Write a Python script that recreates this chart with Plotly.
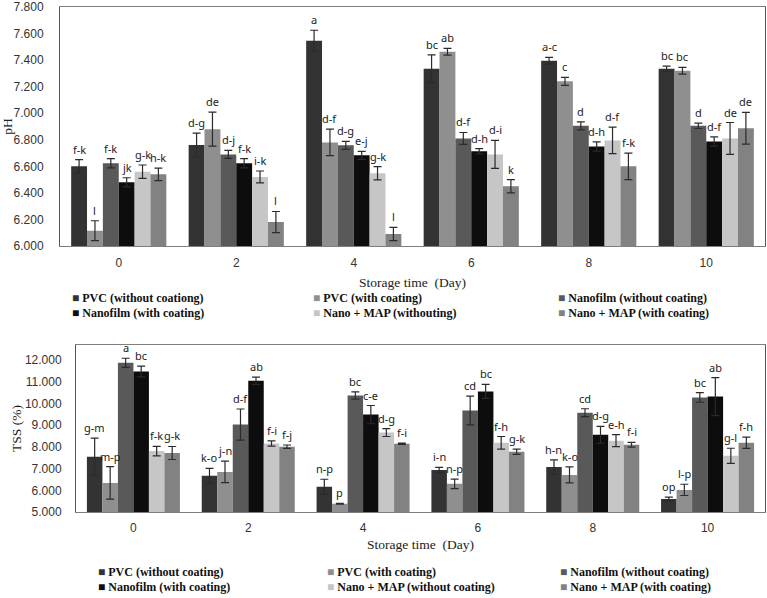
import plotly.graph_objects as go
from plotly.subplots import make_subplots

days = ['0', '2', '4', '6', '8', '10']

names_ph = ['PVC (without coationg)', 'PVC (with coating)', 'Nanofilm (without coating)',
            'Nanofilm (with coating)', 'Nano + MAP (withouting)', 'Nano + MAP (with coating)']
names_tss = ['PVC (without coating)', 'PVC (with coating)', 'Nanofilm (without coating)',
             'Nanofilm (with coating)', 'Nano + MAP (without coating)', 'Nano + MAP (with coating)']
colors = ['#333333', '#8f8f8f', '#595959', '#0d0d0d', '#c6c6c6', '#828282']

#===================== pH =====================
ph_vals = [
  [6.600, 6.760, 7.545, 7.335, 7.395, 7.335],
  [6.115, 6.880, 6.780, 7.463, 7.240, 7.320],
  [6.623, 6.690, 6.758, 6.810, 6.905, 6.905],
  [6.480, 6.623, 6.683, 6.713, 6.750, 6.787],
  [6.560, 6.520, 6.548, 6.690, 6.795, 6.810],
  [6.540, 6.180, 6.090, 6.450, 6.600, 6.887],
]
ph_err = [
  [0.050, 0.090, 0.080, 0.105, 0.025, 0.020],
  [0.075, 0.128, 0.100, 0.025, 0.030, 0.025],
  [0.035, 0.030, 0.030, 0.045, 0.030, 0.020],
  [0.034, 0.035, 0.030, 0.020, 0.035, 0.035],
  [0.050, 0.045, 0.050, 0.105, 0.100, 0.120],
  [0.047, 0.080, 0.050, 0.050, 0.100, 0.120],
]
ph_letters = [
  ['f-k', 'd-g', 'a', 'bc', 'a-c', 'bc'],
  ['l', 'de', 'd-f', 'ab', 'c', 'bc'],
  ['f-k', 'd-j', 'd-g', 'd-f', 'd', 'd'],
  ['jk', 'f-k', 'e-j', 'd-h', 'd-h', 'd-f'],
  ['g-k', 'i-k', 'g-k', 'd-i', 'd-f', 'de'],
  ['h-k', 'l', 'l', 'k', 'f-k', 'de'],
]

#===================== TSS =====================
tss_vals = [
  [7.55, 6.67, 6.16, 6.94, 7.08, 5.60],
  [6.34, 6.85, 5.38, 6.30, 6.71, 6.02],
  [11.88, 9.03, 10.37, 9.68, 9.58, 10.28],
  [11.48, 11.05, 9.49, 10.56, 8.56, 10.32],
  [7.81, 8.16, 8.66, 8.19, 8.29, 7.59],
  [7.72, 8.01, 8.15, 7.78, 8.10, 8.19],
]
tss_err = [
  [0.86, 0.34, 0.35, 0.12, 0.32, 0.09],
  [0.75, 0.50, 0.02, 0.22, 0.37, 0.26],
  [0.21, 0.72, 0.17, 0.66, 0.18, 0.22],
  [0.25, 0.17, 0.42, 0.32, 0.39, 0.88],
  [0.22, 0.12, 0.18, 0.29, 0.28, 0.35],
  [0.30, 0.08, 0.03, 0.12, 0.11, 0.26],
]
tss_letters = [
  ['g-m', 'k-o', 'n-p', 'i-n', 'h-n', 'op'],
  ['m-p', 'j-n', 'p', 'n-p', 'k-o', 'l-p'],
  ['a', 'd-f', 'bc', 'cd', 'cd', 'bc'],
  ['bc', 'ab', 'c-e', 'bc', 'd-g', 'ab'],
  ['f-k', 'f-i', 'd-g', 'f-h', 'e-h', 'g-l'],
  ['g-k', 'f-j', 'f-i', 'g-k', 'f-i', 'f-h'],
]

bargap = 0.19
xpos = list(range(len(days)))
nser = len(colors)
bw = (1 - bargap) / nser

fig = make_subplots(rows=2, cols=1)
annos = []

def add_panel(vals, errs, letters, names, row, xref, yref):
  for j in range(nser):
    fig.add_trace(go.Bar(x=xpos, y=vals[j], name=names[j], marker_color=colors[j],
                         marker_line_width=0, showlegend=False,
                         error_y=dict(type='data', array=errs[j], color='#2b2b2b',
                                      thickness=1.2, width=4)),
                  row=row, col=1)
    for i in range(len(days)):
      annos.append(dict(x=i + (j - (nser - 1) / 2) * bw, y=vals[j][i] + errs[j][i],
                        xref=xref, yref=yref, text=letters[j][i], showarrow=False,
                        yanchor='bottom', yshift=1,
                        font=dict(family='Noto Sans', size=11, color='#222222')))

add_panel(ph_vals, ph_err, ph_letters, names_ph, 1, 'x', 'y')
add_panel(tss_vals, tss_err, tss_letters, names_tss, 2, 'x2', 'y2')

# legends drawn as text rows under each panel
def add_legend(names, xs, ys):
  for k, nm in enumerate(names):
    annos.append(dict(x=xs[k % 3], y=ys[k // 3], xref='paper', yref='paper',
                      xanchor='left', yanchor='middle', showarrow=False,
                      text='<span style="color:%s">■</span> <b>%s</b>' % (colors[k], nm),
                      font=dict(family='Liberation Serif', size=12, color='#111111')))

add_legend(names_ph, [70 / 767, 311 / 767, 556 / 767], [1 - 298 / 598, 1 - 313 / 598])
add_legend(names_tss, [96 / 767, 325 / 767, 558 / 767], [1 - 572 / 598, 1 - 587 / 598])

tickfont = dict(family='Liberation Sans', size=12, color='#333333')
titlefont = dict(family='Liberation Serif', size=13.5, color='#222222')

fig.update_layout(
  width=767, height=598, margin=dict(l=0, r=0, t=0, b=0),
  paper_bgcolor='white', plot_bgcolor='white',
  barmode='group', bargap=bargap, bargroupgap=0,
  annotations=annos,
  xaxis=dict(domain=[60 / 767, 765 / 767], tickvals=xpos, ticktext=days, range=[-0.5, 5.5],
             showline=True, linecolor='#7f7f7f', mirror=True, ticks='', tickfont=tickfont,
             ticklabelstandoff=6, automargin=False, showgrid=False,
             title=dict(text='Storage time  (Day)', font=titlefont, standoff=8)),
  yaxis=dict(domain=[1 - 246 / 598, 1 - 7 / 598], range=[6.0, 7.8001], dtick=0.2, tickformat='.3f',
             showline=True, linecolor='#555555', mirror=True, showgrid=False, ticks='',
             zeroline=False, tickfont=tickfont, ticklabelstandoff=13, automargin=False,
             ticklabeloverflow='allow',
             title=dict(text='pH', font=titlefont, standoff=2)),
  xaxis2=dict(domain=[76 / 767, 765 / 767], tickvals=xpos, ticktext=days, range=[-0.5, 5.5],
              showline=True, linecolor='#7f7f7f', mirror=True, ticks='', tickfont=tickfont,
              ticklabelstandoff=5, automargin=False, showgrid=False,
              title=dict(text='Storage time  (Day)', font=titlefont, standoff=5)),
  yaxis2=dict(domain=[1 - 512 / 598, 1 - 345 / 598], range=[5.0, 12.7], dtick=1, tickformat='.3f',
              showline=True, linecolor='#555555', mirror=True, showgrid=False, ticks='',
              zeroline=False, tickfont=tickfont, ticklabelstandoff=11, automargin=False,
              ticklabeloverflow='allow',
              title=dict(text='TSS (%)', font=titlefont, standoff=0)),
)

# page body has a default 8px margin; drop it so the figure fills the window
fig.write_html("out.html", config={'displayModeBar': False},
               post_script="document.body.style.margin='0';")
